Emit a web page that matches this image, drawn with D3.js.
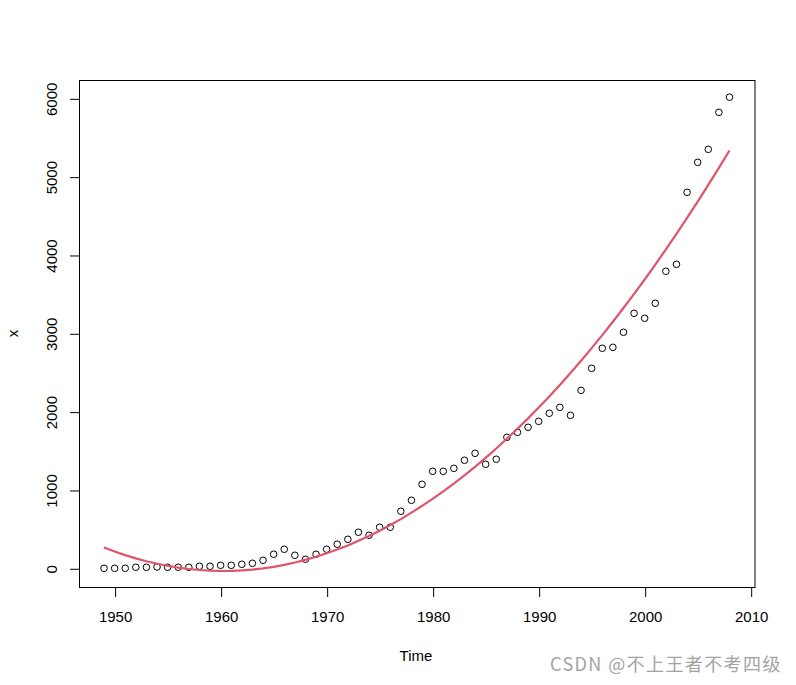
<!DOCTYPE html>
<html>
<head>
<meta charset="utf-8">
<script src="https://cdn.jsdelivr.net/npm/d3@7"></script>
<style>
  html, body { margin: 0; padding: 0; background: #fff; }
  svg { display: block; }
  text { font-family: "Liberation Sans", Arial, sans-serif; }
</style>
</head>
<body>
<svg id="chart" width="796" height="685"></svg>
<script>
// ---- data ----
const startYear = 1949;
const observed = [0, 0, 0, 13, 13, 17, 13, 13, 13, 26,
  26, 38, 38, 51, 64, 102, 179, 243, 166, 115,
  179, 243, 307, 370, 460, 422, 524, 524, 728, 868,
  1072, 1238, 1238, 1276, 1379, 1468, 1328, 1392, 1672, 1736,
  1800, 1876, 1979, 2055, 1953, 2272, 2553, 2809, 2821, 3013,
  3255, 3192, 3383, 3792, 3881, 4800, 5183, 5349, 5821, 6015];
const fitted = [265, 215, 168, 126, 90, 58, 32, 9, -9, -22,
  -31, -35, -33, -27, -17, -1, 19, 44, 74, 108,
  147, 191, 239, 292, 350, 413, 480, 552, 628, 710,
  796, 886, 982, 1082, 1187, 1296, 1410, 1529, 1653, 1781,
  1914, 2052, 2194, 2341, 2493, 2650, 2811, 2977, 3147, 3323,
  3503, 3687, 3877, 4071, 4270, 4473, 4681, 4894, 5112, 5334];
const xTicks = [1950, 1960, 1970, 1980, 1990, 2000, 2010];
const yTicks = [0, 1000, 2000, 3000, 4000, 5000, 6000];
const yDomain = [-239, 6234];
const xLabel = "Time";
const yLabel = "x";
const watermark = "CSDN @不上王者不考四级";

// ---- layout ----
const svg = d3.select("#chart");
const L = 79, R = 754.5, T = 80, B = 587;
const FONT = "'Liberation Sans', Arial, sans-serif";
const years = observed.map((_, i) => startYear + i);

const xr = d3.extent(years);
const xpad = (xr[1] - xr[0]) * 0.04;
const x = d3.scaleLinear().domain([xr[0] - xpad, xr[1] + xpad]).range([L, R]);
const y = d3.scaleLinear().domain(yDomain).range([B, T]);

// box
svg.append("rect").attr("x", L + 0.5).attr("y", T + 0.5)
  .attr("width", R - L).attr("height", B - T)
  .attr("fill", "none").attr("stroke", "#000").attr("stroke-width", 1);

// x axis
const xa = svg.append("g").attr("transform", `translate(0.5,${B + 0.5})`)
  .call(d3.axisBottom(x).tickValues(xTicks).tickSize(9.5).tickFormat(d3.format("d")));
xa.select(".domain").attr("d", `M${x(xTicks[0])},0H${x(xTicks[xTicks.length - 1])}`);
xa.selectAll(".tick text").attr("font-size", 15).attr("fill", "#000")
  .style("font-family", FONT).attr("y", 34.5).attr("dy", 0);

// y axis
const ya = svg.append("g").attr("transform", `translate(${L + 0.5},0.5)`)
  .call(d3.axisLeft(y).tickValues(yTicks).tickSize(9.5).tickFormat(d3.format("d")));
ya.select(".domain").attr("d", `M0,${y(yTicks[0])}V${y(yTicks[yTicks.length - 1])}`);
ya.selectAll(".tick text")
  .attr("font-size", 15).attr("fill", "#000")
  .style("font-family", FONT)
  .attr("text-anchor", "middle").attr("x", 0).attr("dy", 0)
  .attr("transform", "translate(-23,0) rotate(-90)");

// axis titles
svg.append("text").attr("x", 416).attr("y", 661)
  .attr("text-anchor", "middle").attr("font-size", 15).text(xLabel);
svg.append("text").attr("transform", `translate(17.5,${(T + B) / 2}) rotate(-90)`)
  .attr("text-anchor", "middle").attr("font-size", 15).text(yLabel);

// points
svg.append("g").selectAll("circle").data(observed).join("circle")
  .attr("cx", (d, i) => x(years[i]))
  .attr("cy", d => y(d))
  .attr("r", 3.3)
  .attr("fill", "none").attr("stroke", "#000").attr("stroke-width", 1);

// fitted line
svg.append("path").datum(fitted)
  .attr("fill", "none").attr("stroke", "#DF536B").attr("stroke-width", 2.2)
  .attr("d", d3.line().x((d, i) => x(years[i])).y(d => y(d)));

// watermark
svg.append("text").attr("x", 550).attr("y", 671).attr("text-anchor", "start")
  .attr("font-size", 18).attr("letter-spacing", 1.4).attr("fill", "#a3a3a3")
  .style("font-family", "'Noto Sans CJK SC', 'Liberation Sans', sans-serif")
  .text(watermark);
</script>
</body>
</html>
